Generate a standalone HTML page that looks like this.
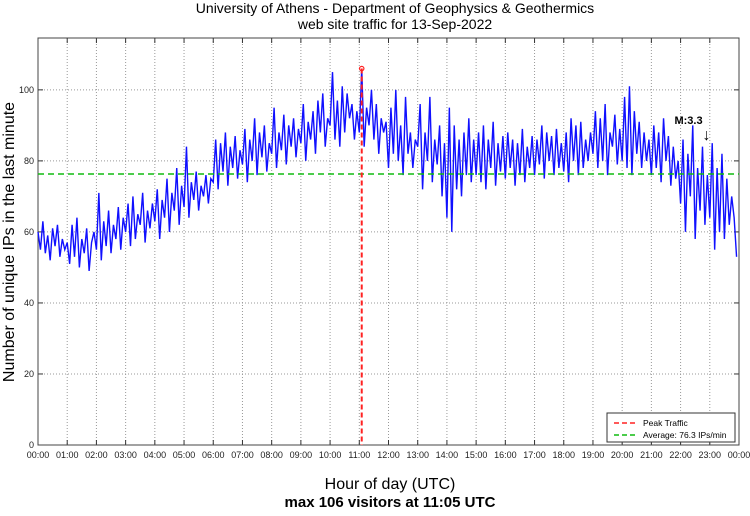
<!DOCTYPE html>
<html><head><meta charset="utf-8"><style>
body{margin:0;background:#fff;width:750px;height:511px;overflow:hidden;font-family:"Liberation Sans",sans-serif}
</style></head><body>
<svg id="chart" width="750" height="511" xmlns="http://www.w3.org/2000/svg" font-family="Liberation Sans, sans-serif">
<text x="395" y="13" text-anchor="middle" font-size="14">University of Athens - Department of Geophysics &amp; Geothermics</text>
<text x="395" y="29" text-anchor="middle" font-size="14">web site traffic for 13-Sep-2022</text>
<text x="390" y="489" text-anchor="middle" font-size="16">Hour of day (UTC)</text>
<text x="390" y="507" text-anchor="middle" font-size="15" font-weight="bold">max 106 visitors at 11:05 UTC</text>
<text transform="translate(14,242) rotate(-90)" text-anchor="middle" font-size="16">Number of unique IPs in the last minute</text>
<g id="grid"></g><g id="series"></g><g id="overlay"></g>
</svg>
<script>
const hourLabels=["00:00","01:00","02:00","03:00","04:00","05:00","06:00","07:00","08:00","09:00","10:00","11:00","12:00","13:00","14:00","15:00","16:00","17:00","18:00","19:00","20:00","21:00","22:00","23:00","00:00"];
const yTicks=[0,20,40,60,80,100];
const visitors=[
60,55,63,54,59,52,61,56,62,53,58,55,
57,51,62,53,64,50,58,54,61,49,57,60,
55,71,52,63,56,66,54,62,58,67,55,64,
60,68,56,70,58,65,62,71,57,66,61,68,
63,72,58,69,64,75,60,71,66,78,62,73,
67,84,64,74,69,77,66,73,70,76,68,75,
74,86,72,85,77,88,73,84,78,87,75,83,
79,89,74,86,80,92,76,88,81,90,77,85,
82,95,78,88,83,93,79,90,84,92,81,89,
85,96,80,91,86,94,82,97,88,99,84,92,
90,105,86,97,84,101,88,99,92,96,86,94,
88,106,84,95,90,100,86,96,82,92,88,91,
78,95,82,100,80,90,76,98,82,88,78,86,
84,96,72,88,80,98,74,86,79,90,70,85,
64,95,60,90,72,86,70,88,76,92,74,86,
76,88,74,90,72,86,78,91,73,85,77,87,
75,88,78,86,73,85,76,89,74,84,78,87,
76,86,79,90,75,88,80,87,76,89,78,85,
77,88,74,92,80,90,76,91,78,86,80,88,
82,94,78,92,80,96,76,88,84,93,79,89,
80,98,78,101,76,94,82,91,78,88,80,86,
76,90,78,88,74,92,80,87,73,84,75,80,
68,86,60,82,70,90,58,78,66,84,62,76,
64,85,55,78,60,82,58,75,62,70,64,53];
const stepMinutes=[5];
const averageValue=[76.3];
const peakMinute=[665];
const peakValue=[106];
const quakeMinute=[1398];
const quakeLabel=["M:3.3"];

const L=38,R=739,T=38,B=445,YMAX=114.6;
const xs=m=>L+m/1440*(R-L);
const ys=v=>B-v/YMAX*(B-T);
const NS="http://www.w3.org/2000/svg";
function mk(tag,attrs,parent){const e=document.createElementNS(NS,tag);for(const k in attrs)e.setAttribute(k,attrs[k]);parent.appendChild(e);return e;}
const grid=document.getElementById('grid'),series=document.getElementById('series'),ov=document.getElementById('overlay');
hourLabels.forEach((lab,i)=>{const x=xs(i*60);
 if(i>0&&i<24){const g=mk('line',{x1:x,x2:x,y1:T,y2:B,stroke:'#999','stroke-dasharray':'1,2','stroke-width':1},grid);
 }
 const t=mk('line',{x1:x,x2:x,y1:T,y2:T+5,stroke:'#333'},grid);
 const tb=mk('line',{x1:x,x2:x,y1:B,y2:B-5,stroke:'#333'},grid);
 const tx=mk('text',{x:x,y:B+13,'text-anchor':'middle','font-size':9,fill:'#222'},grid);tx.textContent=lab;
 });
yTicks.forEach(v=>{const y=ys(v);
 if(v>0){const g=mk('line',{x1:L,x2:R,y1:y,y2:y,stroke:'#999','stroke-dasharray':'1,2'},grid);}
 const t=mk('line',{x1:L,x2:L+5,y1:y,y2:y,stroke:'#333'},grid);
 const t2=mk('line',{x1:R,x2:R-5,y1:y,y2:y,stroke:'#333'},grid);
 const tx=mk('text',{x:L-4,y:y+3,'text-anchor':'end','font-size':9,fill:'#222'},grid);tx.textContent=v;
 });
const frame=mk('rect',{x:L,y:T,width:R-L,height:B-T,fill:'none',stroke:'#444'},grid);

const pts=visitors.map((v,i)=>xs(i*stepMinutes[0])+','+ys(v)).join(' ');
const pl=mk('polyline',{points:pts,fill:'none',stroke:'#1010ff','stroke-width':1.4,'stroke-linejoin':'miter'},series);

const av=mk('line',{x1:L,x2:R,y1:ys(averageValue[0]),y2:ys(averageValue[0]),stroke:'#11bb11','stroke-width':1.5,'stroke-dasharray':'6,4'},ov);

const px=xs(peakMinute[0]);
const pk=mk('line',{x1:px,x2:px,y1:ys(peakValue[0]),y2:B,stroke:'#ff2222','stroke-width':2,'stroke-dasharray':'5,3'},ov);

const pc=mk('circle',{cx:px,cy:ys(peakValue[0]),r:2.2,fill:'none',stroke:'#ff2222','stroke-width':1.2},ov);

const qx=xs(quakeMinute[0]);
const ql=mk('text',{x:qx-30,y:124,'text-anchor':'middle','font-size':11,'font-weight':'bold'},ov);ql.textContent=quakeLabel[0];

const qa=mk('text',{x:qx-12,y:140,'text-anchor':'middle','font-size':16},ov);qa.textContent='↓';

const lg=mk('g',{},ov);
mk('rect',{x:607,y:413,width:128,height:29,fill:'#fff',stroke:'#333'},lg);
const e1=mk('g',{},lg);
mk('line',{x1:614,x2:638,y1:423,y2:423,stroke:'#ff2222','stroke-width':1.5,'stroke-dasharray':'5,3'},e1);
const t1=mk('text',{x:643,y:426,'font-size':8.5},e1);t1.textContent='Peak Traffic';
const e2=mk('g',{},lg);
mk('line',{x1:614,x2:638,y1:435,y2:435,stroke:'#11bb11','stroke-width':1.5,'stroke-dasharray':'5,3'},e2);
const t2=mk('text',{x:643,y:438,'font-size':8.5},e2);t2.textContent='Average: 76.3 IPs/min';
</script>
</body></html>
